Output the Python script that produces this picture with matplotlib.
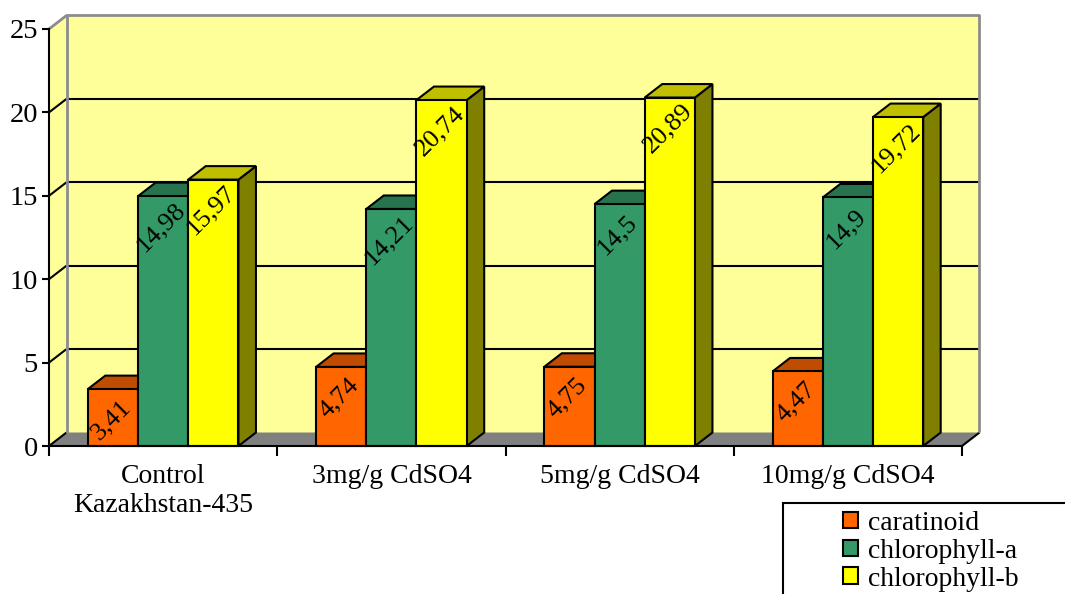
import matplotlib
matplotlib.use("Agg")
import matplotlib.pyplot as plt
from matplotlib.patches import Polygon, Rectangle, Patch
from matplotlib.transforms import offset_copy

plt.rcParams['font.family'] = ['Liberation Serif', 'DejaVu Serif']

categories = ["Control\nKazakhstan-435", "3mg/g CdSO4", "5mg/g CdSO4", "10mg/g CdSO4"]
series_names = ["caratinoid", "chlorophyll-a", "chlorophyll-b"]
caratinoid = [3.41, 4.74, 4.75, 4.47]
chlorophyll_a = [14.98, 14.21, 14.5, 14.9]
chlorophyll_b = [15.97, 20.74, 20.89, 19.72]
yticks = [0, 5, 10, 15, 20, 25]

# front, top and side face colours for each series
faces = [
    ("#FF6600", "#BF4C00", "#803300"),
    ("#339966", "#26734D", "#1A4D33"),
    ("#FFFF00", "#BFBF00", "#808000"),
]
wall_color = "#FFFF99"
floor_color = "#808080"
edge_gray = "#8C8C8C"

W, H = 1065, 594
fig = plt.figure(figsize=(W / 100, H / 100), dpi=100)
ax = fig.add_axes([49 / W, (H - 446) / H, 913 / W, 417 / H])
ax.set_facecolor("none")

n = len(categories)
ymax = yticks[-1]
ax.set_xlim(0, n)
ax.set_ylim(0, ymax)

# depth of the 3d box, converted from pixels to data units
ax_w = 913
ax_h = 417
dx = 17.5 * n / ax_w
dy = 13.5 * ymax / ax_h

def poly(pts, fc, ec="black", lw=1.5, z=1):
    p = Polygon(pts, closed=True, facecolor=fc, edgecolor=ec, linewidth=lw,
                zorder=z, clip_on=False, joinstyle="miter")
    ax.add_patch(p)

def line(xs, ys, color="black", lw=1.5, z=0.6):
    ax.plot(xs, ys, color=color, lw=lw, zorder=z, clip_on=False,
            solid_capstyle="butt")

# walls and floor
poly([(dx, dy), (n + dx, dy), (n + dx, ymax + dy), (dx, ymax + dy)],
     wall_color, ec="none", z=0.3)
poly([(0, 0), (dx, dy), (dx, ymax + dy), (0, ymax)], wall_color, ec="none", z=0.3)
poly([(0, 0), (n, 0), (n + dx, dy), (dx, dy)], floor_color, ec="none", z=0.4)

# gridlines on back and side walls
for v in yticks[1:-1]:
    line([dx, n + dx], [v + dy, v + dy])
for v in yticks[:-1]:
    line([0, dx], [v, v + dy])
line([n, n + dx], [0, dy])

# wall outline
line([dx, dx], [dy, ymax + dy], color=edge_gray, lw=2)
line([0, dx, n + dx, n + dx], [ymax, ymax + dy, ymax + dy, dy], color=edge_gray, lw=2)

# bars
bw = 0.22
values = [caratinoid, chlorophyll_a, chlorophyll_b]
label_tr = offset_copy(ax.transData, fig=fig, x=-2, y=-31, units="dots")
z = 2
for g in range(n):
    for i, vals in enumerate(values):
        v = vals[g]
        front, top, side = faces[i]
        x0 = g + 0.5 - 1.5 * bw + i * bw
        x1 = x0 + bw
        poly([(x1, 0), (x1 + dx, dy), (x1 + dx, v + dy), (x1, v)], side, z=z)
        poly([(x0, v), (x1, v), (x1 + dx, v + dy), (x0 + dx, v + dy)], top, z=z + 0.1)
        poly([(x0, 0), (x1, 0), (x1, v), (x0, v)], front, z=z + 0.2)
        ax.text((x0 + x1) / 2, v, f"{v:g}".replace(".", ","), transform=label_tr,
                rotation=45, rotation_mode="anchor", ha="center", va="center",
                fontsize=19, color="black", zorder=z + 0.3)
        z += 1

# axes
for s in ("top", "right"):
    ax.spines[s].set_visible(False)
for s in ("left", "bottom"):
    ax.spines[s].set_linewidth(1.5)
    ax.spines[s].set_zorder(50)
ax.set_yticks(yticks)
ax.tick_params(axis="y", direction="out", length=5, width=1.5, pad=3, labelsize=20.5)
ax.set_xticks(range(n + 1))
ax.set_xticklabels([])
ax.set_xticks([g + 0.5 for g in range(n)], minor=True)
ax.set_xticklabels(categories, minor=True, fontsize=20, linespacing=1.2)
ax.tick_params(axis="x", which="major", direction="out", length=7, width=1.5)
ax.tick_params(axis="x", which="minor", length=0, pad=13)

# legend, its frame runs off the lower right edge
handles = [Patch(facecolor=faces[i][0], edgecolor="black", linewidth=1.5)
           for i in range(len(series_names))]
fig.legend(handles, series_names, loc="upper left",
           bbox_to_anchor=(843 / W, 1 - 511 / H), frameon=False,
           fontsize=20, handlelength=0.54, handleheight=0.54,
           handletextpad=0.36, labelspacing=0.1, borderpad=0, borderaxespad=0)
fig.patches.append(Rectangle((783 / W, -0.2), 0.5, 0.2 + 1 - 503 / H,
                             transform=fig.transFigure, fill=False,
                             edgecolor="black", linewidth=1.5))

fig.savefig("out.png", dpi=100)
